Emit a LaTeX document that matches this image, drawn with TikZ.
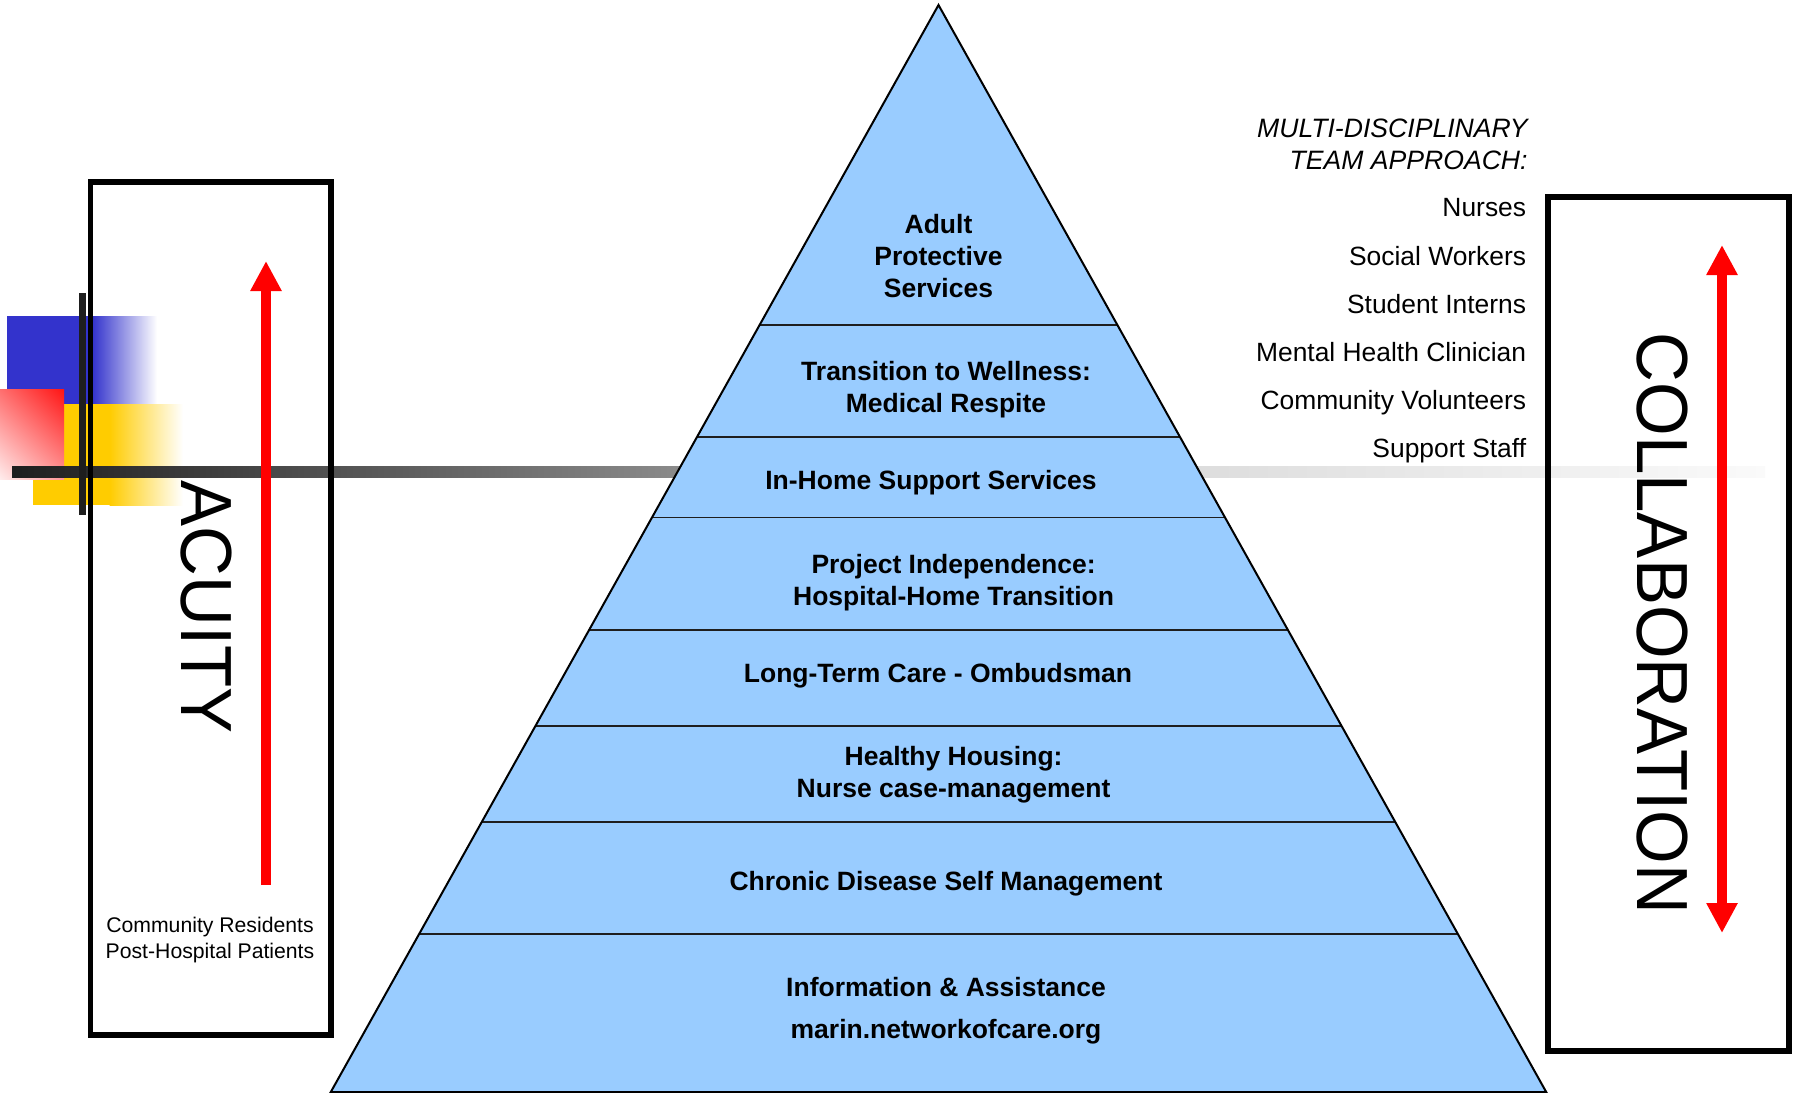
\documentclass[tikz,border=0pt]{standalone}
\usepackage{fontspec}
\setmainfont{Liberation Sans}
\usetikzlibrary{arrows.meta,shadings}
\definecolor{pyrblue}{HTML}{99CCFF}
\definecolor{decoblue}{HTML}{3333CC}
\definecolor{decoyellow}{HTML}{FFCC00}
\definecolor{bardark}{HTML}{1E1E1E}
\definecolor{barmid}{HTML}{8E8E8E}
\definecolor{barlight}{HTML}{DCDCDC}
\definecolor{barend}{HTML}{FAFAFA}
\definecolor{redul}{HTML}{FF6E6E}
\definecolor{redur}{HTML}{FF1414}
\definecolor{redll}{HTML}{FFECEC}
\definecolor{redlr}{HTML}{FF9696}
\begin{document}
\begin{tikzpicture}[x=0.5pt,y=-0.5pt,
  pyrtext/.style={font=\fontsize{13.25pt}{16pt}\selectfont\bfseries, anchor=base, inner sep=0pt},
  listtext/.style={font=\fontsize{13.2pt}{16pt}\selectfont, anchor=base east, inner sep=0pt},
  headtext/.style={font=\fontsize{13.3pt}{16pt}\selectfont\itshape, anchor=base east, inner sep=0pt},
  smalltext/.style={font=\fontsize{10.6pt}{13pt}\selectfont, anchor=base, inner sep=0pt},
  bigtext/.style={font=\fontsize{34.5pt}{40pt}\selectfont, anchor=base, inner sep=0pt, rotate=-90},
  boxline/.style={draw=black, line width=2.7pt},
  redarrow/.style={draw=red, line width=5pt},
  divline/.style={draw=bardark, line width=0.9pt},
  pyredge/.style={draw=black, line width=1pt}]
\useasboundingbox (0,0) rectangle (1795,1093);
% left decoration
\fill[decoblue] (7,316) rectangle (93,405);
\shade[left color=decoblue, right color=white] (92.5,316) rectangle (157,405);
\fill[decoyellow] (33,404) rectangle (110,505);
\shade[left color=decoyellow, right color=white] (109.5,404) rectangle (183,505);
\shade[upper left=redul, upper right=redur, lower left=redll, lower right=redlr]
  (0,389) rectangle (64,479);
% horizontal gradient bar
\shade[left color=bardark, right color=barmid] (12,466) rectangle (700,477);
\shade[left color=barlight, right color=barend] (1180,466) rectangle (1765,477);
% vertical line
\fill[bardark] (79,293) rectangle (86,515);
% boxes
\draw[boxline] (90.5,182) rectangle (331,1035);
\draw[boxline] (1548,197) rectangle (1789,1051);
% arrows
\coordinate (acuBot) at (266,885);
\coordinate (acuTop) at (266,261);
\draw[redarrow, -{Triangle[length=15pt,width=14.7pt]}] (acuBot) -- (acuTop);
\coordinate (colTop) at (1722,245);
\coordinate (colBot) at (1722,933);
\draw[redarrow, {Triangle[length=15pt,width=14.7pt]}-{Triangle[length=15pt,width=14.7pt]}] (colTop) -- (colBot);
% pyramid
\fill[pyrblue] (938.5,5) -- (1546.2,1093) -- (330.8,1093) -- cycle;
\begin{scope}
  \clip (938.5,5) -- (1546.2,1093) -- (330.8,1093) -- cycle;
  \foreach \yy in {325.2,437.3,517.5,629.6,725.8,822,934.2}
    \draw[divline] (300,\yy) -- (1600,\yy);
\end{scope}
\draw[pyredge, line join=miter] (938.5,5) -- (1546.2,1092) -- (330.8,1092) -- cycle;
% pyramid texts
\node[pyrtext] (t1a) at (938.5,233.5) {Adult};
\node[pyrtext] (t1b) at (938.5,265.5) {Protective};
\node[pyrtext] (t1c) at (938.5,297.5) {Services};
\node[pyrtext] (t2a) at (946,380) {Transition to Wellness:};
\node[pyrtext] (t2b) at (946,412) {Medical Respite};
\node[pyrtext] (t3) at (931,489.5) {In-Home Support Services};
\node[pyrtext] (t4a) at (953.6,573) {Project Independence:};
\node[pyrtext] (t4b) at (953.6,605) {Hospital-Home Transition};
\node[pyrtext] (t5) at (938,682) {Long-Term Care - Ombudsman};
\node[pyrtext] (t6a) at (953.6,765.5) {Healthy Housing:};
\node[pyrtext] (t6b) at (953.6,797.5) {Nurse case-management};
\node[pyrtext] (t7) at (946,890) {Chronic Disease Self Management};
\node[pyrtext] (t8a) at (946,996.5) {Information \& Assistance};
\node[pyrtext] (t8b) at (946,1038) {marin.networkofcare.org};
% right list
\node[headtext] (h1) at (1528,137.3) {MULTI-DISCIPLINARY};
\node[headtext] (h2) at (1528,169.3) {TEAM APPROACH:};
\node[listtext] (l1) at (1526.5,216.7) {Nurses};
\node[listtext] (l2) at (1526.5,265) {Social Workers};
\node[listtext] (l3) at (1526.5,313) {Student Interns};
\node[listtext] (l4) at (1526.5,361.5) {Mental Health Clinician};
\node[listtext] (l5) at (1526.5,409.5) {Community Volunteers};
\node[listtext] (l6) at (1526.5,457.5) {Support Staff};
% left box texts
\node[smalltext] (cr1) at (210,932) {Community Residents};
\node[smalltext] (cr2) at (210,958) {Post-Hospital Patients};
\node[bigtext] (acuity) at (181.7,607) {\scalebox{1}[1.05]{ACUITY}};
\node[bigtext] (collab) at (1637,623.5) {\scalebox{1}[1.05]{COLLABORATION}};
\end{tikzpicture}
\end{document}
